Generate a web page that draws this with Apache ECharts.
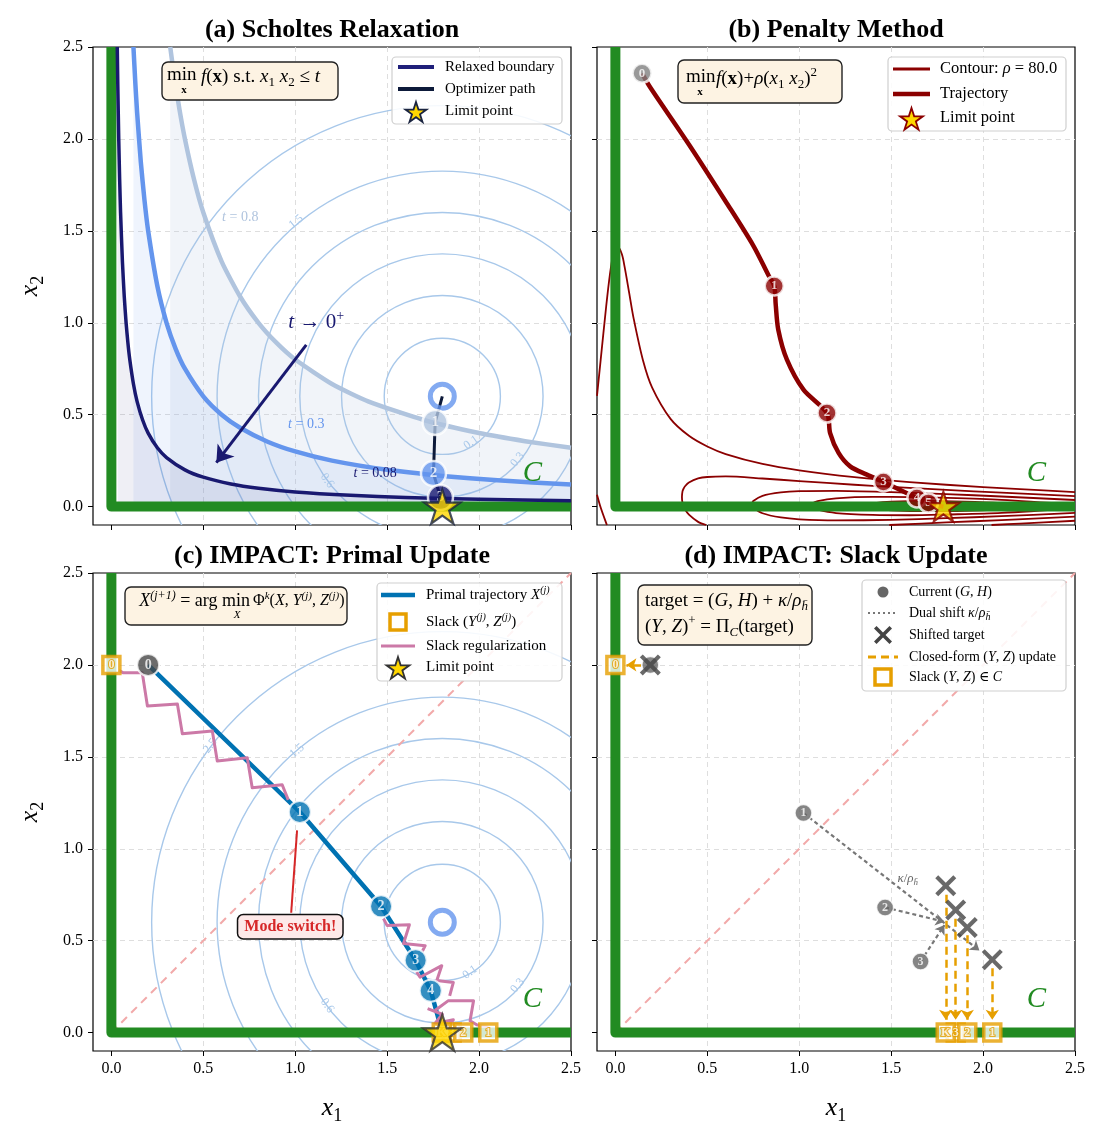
<!DOCTYPE html>
<html>
<head>
<meta charset="utf-8">
<script src="https://cdn.jsdelivr.net/npm/echarts@6.0.0/dist/echarts.min.js"></script>
<style>
  html, body { margin: 0; padding: 0; background: #fff; }
  #main { width: 1107px; height: 1139px; }
</style>
</head>
<body>
<div id="main"></div>
<script>
const SERIF = "'Liberation Serif', 'DejaVu Serif', serif";
const GREEN = '#228B22';
const CONTOUR = '#a8c8ea';
const STAR_D = 'M50,0L61.2,34.5L97.6,34.5L68.2,55.9L79.4,90.5L50,69.1L20.6,90.5L31.8,55.9L2.4,34.5L38.8,34.5Z';
const X_D = 'M0,14L14,0L50,36L86,0L100,14L64,50L100,86L86,100L50,64L14,100L0,86L36,50Z';
const STAR_PTS = [[50,0],[61.2,34.5],[97.6,34.5],[68.2,55.9],[79.4,90.5],[50,69.1],[20.6,90.5],[31.8,55.9],[2.4,34.5],[38.8,34.5]];
const X_PTS = [[0,14],[14,0],[50,36],[86,0],[100,14],[64,50],[100,86],[86,100],[50,64],[14,100],[0,86],[36,50]];

// ---------- data ----------
const tickVals = [0, 0.5, 1.0, 1.5, 2.0, 2.5];
const feasibleSet = [[0, 2.5], [0, 0], [2.5, 0]];
const diagonal = [[0, 0], [2.5, 2.5]];
const contourCenter = [1.8, 0.6];
const contourRadii = [0.316, 0.548, 0.775, 1.0, 1.225, 1.581];
const cLabelPos = [2.29, 0.18];

// (a) relaxed boundaries x1*x2 = t
const hypT08 = [[0.32,2.5],[0.34,2.353],[0.37,2.162],[0.4,2.0],[0.45,1.778],[0.5,1.6],[0.6,1.333],[0.7,1.143],[0.8,1.0],[0.9,0.889],[1.0,0.8],[1.2,0.667],[1.4,0.571],[1.7,0.471],[2.0,0.4],[2.25,0.356],[2.5,0.32]];
const hypT03 = [[0.12,2.5],[0.13,2.308],[0.14,2.143],[0.16,1.875],[0.18,1.667],[0.2,1.5],[0.25,1.2],[0.3,1.0],[0.35,0.857],[0.4,0.75],[0.5,0.6],[0.6,0.5],[0.7,0.429],[0.85,0.353],[1.0,0.3],[1.2,0.25],[1.5,0.2],[1.8,0.167],[2.1,0.143],[2.5,0.12]];
const hypT008 = [[0.032,2.5],[0.035,2.286],[0.04,2.0],[0.045,1.778],[0.05,1.6],[0.06,1.333],[0.07,1.143],[0.08,1.0],[0.09,0.889],[0.1,0.8],[0.12,0.667],[0.14,0.571],[0.17,0.471],[0.2,0.4],[0.25,0.32],[0.3,0.267],[0.4,0.2],[0.5,0.16],[0.65,0.123],[0.8,0.1],[1.0,0.08],[1.3,0.062],[1.6,0.05],[2.0,0.04],[2.5,0.032]];
const startA = [1.8, 0.6];
const stepsA = [[1.761, 0.458, '1'], [1.752, 0.18, '2'], [1.79, 0.05, '3']];
const stepColorsA = ['#B0C4DE', '#6495ED', '#191970'];
const pathA = [[1.8, 0.6], [1.761, 0.458], [1.752, 0.18], [1.79, 0.05], [1.8, 0.0]];
const limitA = [1.8, 0.0];
const arrowA = [[1.06, 0.88], [0.571, 0.239]];
const contourLabelsA = [['0.1', 1.957, 0.348, 35], ['0.3', 2.21, 0.255, 50], ['0.6', 1.174, 0.141, -53], ['1.5', 1.005, 1.549, 40]];
const tLabelsA = [['{i|t}{n| = 0.8}', 0.701, 1.571, 0, '#B0C4DE'], ['{i|t}{n| = 0.3}', 1.06, 0.446, 0, '#6495ED'], ['{i|t}{n| = 0.08}', 1.435, 0.179, 0, '#191970']];
const tLimitLabel = [['{i|t}{n| → 0}{p|+}', 1.114, 1.0, 0, '#191970']];

// (b) penalty contours, rho = 80
const penA = [[-0.1,0.602],[-0.08,0.798],[-0.05,1.09],[-0.03,1.261],[-0.01,1.38],[0.01,1.418],[0.035,1.374],[0.05,1.305],[0.075,1.163],[0.1,1.02],[0.15,0.796],[0.2,0.647],[0.3,0.477],[0.4,0.385],[0.5,0.327],[0.6,0.286],[0.8,0.232],[1.0,0.197],[1.3,0.16],[1.6,0.133],[2.0,0.106],[2.2,0.095],[2.5,0.079]];
const penALowL = [[-0.1,0.065],[-0.08,-0.005],[-0.05,-0.09],[-0.046,-0.1]];
const penALowR = [[2.046,-0.1],[2.2,-0.092],[2.5,-0.077]];
const penB = [[0.494,-0.1],[0.45,-0.083],[0.4,-0.044],[0.38,-0.017],[0.37,0.004],[0.365,0.02],[0.362,0.052],[0.365,0.083],[0.37,0.096],[0.38,0.112],[0.4,0.131],[0.45,0.153],[0.5,0.161],[0.6,0.164],[0.8,0.153],[1.0,0.139],[1.3,0.119],[1.5,0.107],[1.8,0.091],[2.1,0.076],[2.5,0.057]];
const penBLowR = [[1.49,-0.1],[1.8,-0.086],[2.1,-0.073],[2.5,-0.054]];
const penC = [[2.5,-0.034],[2.1,-0.052],[1.8,-0.063],[1.5,-0.072],[1.2,-0.075],[1.0,-0.069],[0.9,-0.059],[0.8,-0.036],[0.75,-0.005],[0.743,0.009],[0.742,0.013],[0.743,0.017],[0.75,0.031],[0.8,0.059],[0.9,0.077],[1.0,0.084],[1.2,0.086],[1.5,0.079],[1.8,0.068],[2.1,0.055],[2.5,0.036]];
const penD = [[2.5,-0.009],[2.1,-0.034],[1.8,-0.043],[1.6,-0.047],[1.4,-0.045],[1.2,-0.035],[1.1,-0.017],[1.07,-0.004],[1.063,0.0065],[1.07,0.017],[1.1,0.03],[1.2,0.045],[1.4,0.053],[1.6,0.052],[1.8,0.048],[2.1,0.037],[2.5,0.011]];
const penE = [[1.362,0.004],[1.37,-0.003],[1.4,-0.011],[1.5,-0.02],[1.7,-0.025],[1.9,-0.023],[2.1,-0.015],[2.2,-0.007],[2.23,0.0015],[2.2,0.011],[2.1,0.019],[1.9,0.027],[1.7,0.031],[1.5,0.027],[1.4,0.018],[1.37,0.011],[1.362,0.004]];
const trajB = [[0.145,2.357],[0.19,2.28],[0.4,1.97],[0.6,1.66],[0.75,1.42],[0.832,1.26],[0.864,1.2],[0.872,1.1],[0.886,0.962],[0.933,0.799],[1.023,0.636],[1.151,0.509],[1.168,0.4],[1.214,0.292],[1.277,0.219],[1.368,0.174],[1.458,0.134],[1.64,0.047],[1.703,0.02],[1.784,0.0]];
const startB = [[0.145, 2.357, '0']];
const stepsB = [[0.864,1.2,'1'],[1.151,0.509,'2'],[1.458,0.134,'3'],[1.64,0.047,'4'],[1.703,0.02,'5']];
const limitB = [1.784, 0.0];

// (c) IMPACT primal update
const primalC = [[0.2,2.0],[1.025,1.2],[1.467,0.687],[1.655,0.393],[1.737,0.228],[1.8,0.0]];
const primalMarks = [[0.2,2.0,'0'],[1.025,1.2,'1'],[1.467,0.687,'2'],[1.655,0.393,'3'],[1.737,0.228,'4']];
const primalColors = ['#474747','#0072B2','#0072B2','#0072B2','#0072B2'];
const slackC = [[0,2.0,'0'],[2.05,0,'1'],[1.851,0,'3'],[1.914,0,'2'],[1.797,0,'K']];
const zigC1 = [[0.04,1.97],[0.065,1.957],[0.168,1.957],[0.196,1.777],[0.359,1.788],[0.386,1.625],[0.549,1.641],[0.576,1.478],[0.739,1.495],[0.766,1.332],[0.929,1.348],[0.962,1.266]];
const zigC2 = [[1.48,0.62],[1.50,0.582],[1.621,0.587],[1.589,0.485],[1.707,0.473],[1.69,0.44]];
const zigC3 = [[1.66,0.33],[1.679,0.301],[1.797,0.364],[1.77,0.283],[1.86,0.273],[1.84,0.20]];
const zigC4 = [[1.76,0.12],[1.833,0.174],[1.97,0.174],[1.951,0.065],[1.987,0.043],[2.05,0.03]];
const zigC5 = [[1.72,0.13],[1.80,0.10],[1.76,0.05],[1.86,0.07],[1.82,0.02]];
const limitC = [1.8, 0.0];
const modeSwitchLine = [[0.978,0.652],[1.01,1.10]];
const modeSwitchLabel = [['Mode switch!', 0.973, 0.576, 0, '#d62728']];
const contourLabelsC = [['0.1', 1.951, 0.328, 35], ['0.3', 2.21, 0.255, 50], ['0.6', 1.174, 0.147, -53], ['1.5', 1.01, 1.533, 40], ['2.5', 0.538, 1.56, 52]];

// (d) IMPACT slack update
const currentD = [[0.19,2.0,''],[1.023,1.194,'1'],[1.467,0.681,'2'],[1.66,0.387,'3']];
const targetsD = [[1.797,0.799],[1.851,0.667],[1.914,0.572],[2.05,0.397],[0.19,2.0]];
const shiftArrows = [[[1.023,1.194],[1.98,0.447]], [[1.467,0.681],[1.79,0.603]], [[1.66,0.387],[1.79,0.585]]];
const projArrows = [[[1.797,0.75],[1.797,0.07]], [[1.851,0.62],[1.851,0.07]], [[1.914,0.53],[1.914,0.07]], [[2.05,0.35],[2.05,0.07]], [[0.14,2.0],[0.06,2.0]]];
const slackD = [[0,2.0,'0'],[2.05,0,'1'],[1.851,0,'3'],[1.914,0,'2'],[1.797,0,'K']];
const kappaLabel = [['{i|κ}{n|/}{i|ρ}{si|h̄}', 1.59, 0.84, 0, '#666666']];

// ---------- helpers ----------
function richSet(sz) {
  const sm = Math.round(sz * 0.68);
  const base = { fontFamily: SERIF, fontSize: sz, lineHeight: Math.round(sz * 1.3) };
  const small = { fontFamily: SERIF, fontSize: sm, lineHeight: sm };
  return {
    n: Object.assign({}, base),
    i: Object.assign({}, base, { fontStyle: 'italic' }),
    bf: Object.assign({}, base, { fontWeight: 'bold' }),
    s: Object.assign({}, small, { verticalAlign: 'bottom' }),
    si: Object.assign({}, small, { fontStyle: 'italic', verticalAlign: 'bottom' }),
    p: Object.assign({}, small, { verticalAlign: 'top' }),
    pi: Object.assign({}, small, { fontStyle: 'italic', verticalAlign: 'top' })
  };
}

function lineS(g, data, color, width, z, extra) {
  extra = extra || {};
  return {
    type: 'line', xAxisIndex: g, yAxisIndex: g, data: data, symbol: 'none', showSymbol: false,
    silent: true, z: z, smooth: extra.smooth || false,
    lineStyle: { color: color, width: width, type: extra.dash || 'solid', cap: 'butt', join: 'round' }
  };
}

function areaS(g, data, color, opacity) {
  return {
    type: 'line', xAxisIndex: g, yAxisIndex: g, data: data, symbol: 'none', showSymbol: false,
    silent: true, z: 2, smooth: 0.2, lineStyle: { width: 0, opacity: 0 },
    areaStyle: { color: color, opacity: opacity, origin: 'auto' }
  };
}

function circleS(g) {
  return {
    type: 'custom', xAxisIndex: g, yAxisIndex: g, clip: true, silent: true, z: 1,
    data: contourRadii.map(r => [contourCenter[0], contourCenter[1], r]),
    renderItem: function (params, api) {
      const c = api.coord([api.value(0), api.value(1)]);
      const rp = api.size([api.value(2), 0])[0];
      const cs = params.coordSys;
      return {
        type: 'group',
        clipPath: { type: 'rect', shape: { x: cs.x, y: cs.y, width: cs.width, height: cs.height } },
        children: [{ type: 'circle', shape: { cx: c[0], cy: c[1], r: rp },
          style: { fill: 'none', stroke: CONTOUR, lineWidth: 1.4 } }]
      };
    }
  };
}

function markerS(g, pts, colors, size, fsz, bw, z) {
  return {
    type: 'scatter', xAxisIndex: g, yAxisIndex: g, silent: true, z: z || 6, symbol: 'circle', symbolSize: size,
    data: pts.map((p, i) => ({ value: [p[0], p[1]], name: p[2],
      itemStyle: { color: Array.isArray(colors) ? colors[i] : colors } })),
    itemStyle: { borderColor: '#fff', borderWidth: bw },
    label: { show: true, position: 'inside', formatter: '{b}', color: '#fff', fontWeight: 'bold', fontSize: fsz, fontFamily: SERIF }
  };
}

function ringS(g, pt) {
  return {
    type: 'scatter', xAxisIndex: g, yAxisIndex: g, silent: true, z: 6, symbol: 'circle', symbolSize: 24,
    data: [pt], itemStyle: { color: 'rgba(0,0,0,0)', borderColor: '#6495ED', borderWidth: 5 }
  };
}

function starS(g, pt, edge, size) {
  return {
    type: 'scatter', xAxisIndex: g, yAxisIndex: g, silent: true, z: 8, symbol: 'path://' + STAR_D,
    symbolKeepAspect: true, symbolSize: size, data: [pt],
    itemStyle: { color: '#FFD700', borderColor: edge, borderWidth: 2.2 }
  };
}

function squareS(g, pts) {
  return {
    type: 'scatter', xAxisIndex: g, yAxisIndex: g, silent: true, z: 7, symbol: 'rect', symbolSize: 17,
    data: pts.map(p => ({ value: [p[0], p[1]], name: p[2] })),
    itemStyle: { color: '#fff', borderColor: '#E69F00', borderWidth: 3.5 },
    label: { show: true, position: 'inside', formatter: '{b}', color: '#fff', textBorderColor: '#E69F00',
      textBorderWidth: 2, fontWeight: 'bold', fontSize: 12, fontFamily: SERIF }
  };
}

function crossS(g, pts) {
  return {
    type: 'scatter', xAxisIndex: g, yAxisIndex: g, silent: true, z: 7, symbol: 'path://' + X_D,
    symbolSize: 21, data: pts, itemStyle: { color: '#444' }
  };
}

function arrowS(g, segs, color, width, dash, head, z) {
  return {
    type: 'lines', coordinateSystem: 'cartesian2d', xAxisIndex: g, yAxisIndex: g, silent: true, z: z,
    symbol: ['none', head ? 'arrow' : 'none'], symbolSize: head || 1,
    lineStyle: { color: color, width: width, type: dash || 'solid', opacity: 1, curveness: 0 },
    data: segs.map(s => ({ coords: s }))
  };
}

// text annotations placed in data coordinates: [text, x, y, rotateDeg, color]
function textS(g, items, style, z) {
  return {
    type: 'custom', xAxisIndex: g, yAxisIndex: g, silent: true, z: z || 9,
    data: items.map(it => [it[1], it[2]]),
    renderItem: function (params, api) {
      const it = items[params.dataIndex];
      const p = api.coord([api.value(0), api.value(1)]);
      return {
        type: 'text', x: p[0], y: p[1], rotation: (it[3] || 0) * Math.PI / 180,
        style: Object.assign({
          text: it[0], rich: richSet(style.fontSize), fill: it[4] || style.color || '#000',
          fontFamily: SERIF, fontSize: style.fontSize, fontStyle: style.fontStyle || 'normal',
          fontWeight: style.fontWeight || 'normal', align: 'center', verticalAlign: 'middle'
        }, style.box || {})
      };
    }
  };
}

function cLabel(g) {
  return textS(g, [['C', cLabelPos[0], cLabelPos[1]]], { color: GREEN, fontSize: 29, fontStyle: 'italic' });
}

// ---------- axes ----------
const grids = [[93, 47], [597, 47], [93, 573], [597, 573]];
function axisCfg(i, showLabel) {
  return {
    gridIndex: i, type: 'value', min: -0.1, max: 2.5,
    axisLine: { show: false, onZero: false },
    axisTick: { show: true, length: 5, customValues: tickVals, lineStyle: { color: '#000', width: 1 } },
    axisLabel: { show: showLabel, customValues: tickVals, margin: 10, color: '#000', fontSize: 16, fontFamily: SERIF,
      formatter: v => (v < -0.05 ? '' : v.toFixed(1)) },
    splitLine: { show: true, showMinLine: false, showMaxLine: false, lineStyle: { color: '#dedede', width: 1, type: [5, 4] } }
  };
}

// ---------- series ----------
const series = [];
// (a)
series.push(circleS(0));
series.push(areaS(0, hypT08, '#B0C4DE', 0.18));
series.push(areaS(0, hypT03, '#6495ED', 0.10));
series.push(areaS(0, hypT008, '#191970', 0.07));
series.push(textS(0, contourLabelsA, { color: CONTOUR, fontSize: 12 }, 3));
series.push(lineS(0, feasibleSet, GREEN, 10, 3));
series.push(lineS(0, hypT08, '#B0C4DE', 4.5, 4, { smooth: 0.2 }));
series.push(lineS(0, hypT03, '#6495ED', 4.5, 4, { smooth: 0.2 }));
series.push(lineS(0, hypT008, '#191970', 3.5, 4, { smooth: 0.2 }));
series.push(lineS(0, pathA, '#0d1a3a', 3, 5));
series.push(ringS(0, startA));
series.push(markerS(0, stepsA, stepColorsA, 25, 15, 2.5, 6));
series.push(starS(0, limitA, '#1a2440', 36));
series.push(arrowS(0, [arrowA], '#191970', 3, 'solid', 16, 9));
series.push(textS(0, tLabelsA, { fontSize: 14 }));
series.push(textS(0, tLimitLabel, { fontSize: 21 }));
series.push(cLabel(0));

// (b)
[penA, penALowL, penALowR, penB, penBLowR, penC, penD, penE].forEach(c => series.push(lineS(1, c, '#8B0000', 1.8, 2, { smooth: 0.3 })));
series.push(lineS(1, feasibleSet, GREEN, 10, 3));
series.push(lineS(1, trajB, '#8B0000', 4.5, 4, { smooth: 0.3 }));
series.push(markerS(1, startB, '#808080', 19, 13, 2.5, 6));
series.push(markerS(1, stepsB, '#8B0000', 19, 13, 2.5, 6));
series.push(starS(1, limitB, '#8B0000', 31));
series.push(cLabel(1));

// (c)
series.push(circleS(2));
series.push(textS(2, contourLabelsC, { color: CONTOUR, fontSize: 12 }, 3));
series.push(lineS(2, diagonal, '#f2a9a9', 2, 2, { dash: [8, 6] }));
series.push(lineS(2, feasibleSet, GREEN, 10, 3));
series.push(lineS(2, primalC, '#0072B2', 4.5, 4));
[zigC1, zigC2, zigC3, zigC4, zigC5].forEach(z => series.push(lineS(2, z, '#CC79A7', 3, 5)));
series.push(ringS(2, contourCenter));
series.push(markerS(2, primalMarks, primalColors, 22, 14, 2, 6));
series.push(squareS(2, slackC));
series.push(starS(2, limitC, '#333333', 38));
series.push(arrowS(2, [modeSwitchLine], '#d62728', 2, 'solid', 0, 8));
series.push(textS(2, modeSwitchLabel, { fontSize: 16, fontWeight: 'bold',
  box: { backgroundColor: '#fde9e9', borderColor: '#111', borderWidth: 1.5, borderRadius: 5, padding: [4, 6, 3, 6] } }, 10));
series.push(cLabel(2));

// (d)
series.push(lineS(3, diagonal, '#f2a9a9', 2, 2, { dash: [8, 6] }));
series.push(lineS(3, feasibleSet, GREEN, 10, 3));
series.push(arrowS(3, shiftArrows, '#777777', 2.2, [4, 3], 9, 4));
series.push(arrowS(3, projArrows, '#E69F00', 2.5, [8, 5], 10, 4));
series.push(markerS(3, currentD, '#666666', 17, 12, 1.5, 6));
series.push(crossS(3, targetsD));
series.push(squareS(3, slackD));
series.push(textS(3, kappaLabel, { fontSize: 13 }));
series.push(cLabel(3));

// ---------- graphics: titles, axis names, insets, legends ----------
const gfx = [];
function txt(x, y, text, size, opts) {
  opts = opts || {};
  gfx.push({ type: 'text', z: 101, x: x, y: y, rotation: opts.rot || 0,
    style: { text: text, rich: richSet(size), fontFamily: SERIF, fontSize: size, fontWeight: opts.bold ? 'bold' : 'normal',
      fill: opts.color || '#000', align: opts.align || 'left', verticalAlign: 'middle' } });
}
function box(x, y, w, h, fill, stroke, r) {
  gfx.push({ type: 'rect', z: 100, shape: { x: x, y: y, width: w, height: h, r: r },
    style: { fill: fill, stroke: stroke, lineWidth: 1.4 } });
}
function polyEl(pts, cx, cy, s, style) {
  return { type: 'polygon', z: 101,
    shape: { points: pts.map(p => [cx + (p[0] - 50) / 100 * s, cy + (p[1] - 50) / 100 * s]) }, style: style };
}

[['(a) Scholtes Relaxation', 332, 30], ['(b) Penalty Method', 836, 30],
 ['(c) IMPACT: Primal Update', 332, 556], ['(d) IMPACT: Slack Update', 836, 556]].forEach(t => {
  gfx.push({ type: 'text', z: 101, x: t[1], y: t[2],
    style: { text: t[0], fontFamily: SERIF, fontSize: 26, fontWeight: 'bold', fill: '#000', align: 'center', verticalAlign: 'middle' } });
});
txt(30, 286, '{i|x}{s|2}', 26, { rot: Math.PI / 2, align: 'center' });
txt(30, 812, '{i|x}{s|2}', 26, { rot: Math.PI / 2, align: 'center' });
txt(332, 1108, '{i|x}{s|1}', 26, { align: 'center' });
txt(836, 1108, '{i|x}{s|1}', 26, { align: 'center' });

// insets
const INSET = '#fdf3e3';
box(162, 62, 176, 38, INSET, '#222', 6);
txt(167, 75, '{n|min}', 19);
txt(184, 90, '{bf|x}', 11, { align: 'center' });
txt(201, 77, '{i|f}{n|(}{bf|x}{n|) s.t. }{i|x}{s|1}{n| }{i|x}{s|2}{n| ≤ }{i|t}', 19);

box(678, 60, 164, 43, INSET, '#222', 6);
txt(686, 77, '{n|min}', 19);
txt(700, 92, '{bf|x}', 11, { align: 'center' });
txt(716, 79, '{i|f}{n|(}{bf|x}{n|)+}{i|ρ}{n|(}{i|x}{s|1}{n| }{i|x}{s|2}{n|)}{p|2}', 19);

box(125, 587, 222, 38, INSET, '#222', 6);
txt(250, 601, '{i|X}{pi|(j+1)}{n| = arg min}', 18, { align: 'right' });
txt(237, 615, '{i|X}', 11, { align: 'center' });
txt(253, 601, '{n|Φ}{pi|k}{n|(}{i|X}{n|, }{i|Y}{pi|(j)}{n|, }{i|Z}{pi|(j)}{n|)}', 16);

box(638, 585, 174, 60, INSET, '#222', 6);
txt(645, 601, '{n|target = (}{i|G}{n|, }{i|H}{n|) + }{i|κ}{n|/}{i|ρ}{si|h̄}', 19);
txt(645, 627, '{n|(}{i|Y}{n|, }{i|Z}{n|)}{p|+}{n| = Π}{si|C}{n|(target)}', 19);

// legends
function legend(b, rows, font, hx1, hx2, tx) {
  gfx.push({ type: 'rect', z: 100, shape: { x: b[0], y: b[1], width: b[2], height: b[3], r: 4 },
    style: { fill: 'rgba(255,255,255,0.88)', stroke: '#cfcfcf', lineWidth: 1.2 } });
  const cx = (hx1 + hx2) / 2;
  rows.forEach(r => {
    const y = r.y;
    if (r.k === 'line') {
      gfx.push({ type: 'line', z: 101, shape: { x1: hx1, y1: y, x2: hx2, y2: y },
        style: { stroke: r.c, lineWidth: r.w, lineDash: r.dash || null } });
    } else if (r.k === 'star') {
      gfx.push(polyEl(STAR_PTS, cx, y + 2, r.s, { fill: '#FFD700', stroke: r.edge, lineWidth: 1.8 }));
    } else if (r.k === 'x') {
      gfx.push(polyEl(X_PTS, cx, y, r.s, { fill: '#444' }));
    } else if (r.k === 'sq') {
      gfx.push({ type: 'rect', z: 101, shape: { x: cx - 8, y: y - 8, width: 16, height: 16 },
        style: { fill: '#fff', stroke: '#E69F00', lineWidth: 3.5 } });
    } else if (r.k === 'dot') {
      gfx.push({ type: 'circle', z: 101, shape: { cx: cx, cy: y, r: 5.5 }, style: { fill: '#666' } });
    }
    txt(tx, y, r.t, font);
  });
}
legend([392, 57, 170, 67], [
  { k: 'line', c: '#1f1f7a', w: 4, t: '{n|Relaxed boundary}', y: 67 },
  { k: 'line', c: '#0d1a3a', w: 4, t: '{n|Optimizer path}', y: 89 },
  { k: 'star', edge: '#1a2440', s: 22, t: '{n|Limit point}', y: 111 }
], 15, 398, 434, 445);
legend([888, 57, 178, 74], [
  { k: 'line', c: '#8B0000', w: 3, t: '{n|Contour: }{i|ρ}{n| = 80.0}', y: 69 },
  { k: 'line', c: '#8B0000', w: 4.5, t: '{n|Trajectory}', y: 94 },
  { k: 'star', edge: '#8B0000', s: 24, t: '{n|Limit point}', y: 118 }
], 16.5, 893, 930, 940);
legend([377, 583, 185, 98], [
  { k: 'line', c: '#0072B2', w: 4.5, t: '{n|Primal trajectory }{i|X}{pi|(j)}', y: 595 },
  { k: 'sq', t: '{n|Slack (}{i|Y}{pi|(j)}{n|, }{i|Z}{pi|(j)}{n|)}', y: 622 },
  { k: 'line', c: '#CC79A7', w: 3, t: '{n|Slack regularization}', y: 646 },
  { k: 'star', edge: '#333333', s: 24, t: '{n|Limit point}', y: 667 }
], 15, 381, 415, 426);
legend([862, 580, 204, 111], [
  { k: 'dot', t: '{n|Current (}{i|G}{n|, }{i|H}{n|)}', y: 592 },
  { k: 'line', c: '#777777', w: 2, dash: [2, 3], t: '{n|Dual shift }{i|κ}{n|/}{i|ρ}{si|h̄}', y: 613 },
  { k: 'x', s: 18, t: '{n|Shifted target}', y: 635 },
  { k: 'line', c: '#E69F00', w: 3, dash: [8, 5], t: '{n|Closed-form (}{i|Y}{n|, }{i|Z}{n|) update}', y: 657 },
  { k: 'sq', t: '{n|Slack (}{i|Y}{n|, }{i|Z}{n|) ∈ }{i|C}', y: 677 }
], 14, 868, 898, 909);

// ---------- chart ----------
const chart = echarts.init(document.getElementById('main'), null, { renderer: 'canvas' });
chart.setOption({
  animation: false,
  backgroundColor: '#ffffff',
  grid: grids.map(g => ({ left: g[0], top: g[1], width: 478, height: 478, show: true,
    borderColor: '#000', borderWidth: 1.2, backgroundColor: 'rgba(0,0,0,0)' })),
  xAxis: [0, 1, 2, 3].map(i => axisCfg(i, i >= 2)),
  yAxis: [0, 1, 2, 3].map(i => axisCfg(i, i % 2 === 0)),
  series: series,
  graphic: { elements: gfx }
});
</script>
</body>
</html>
